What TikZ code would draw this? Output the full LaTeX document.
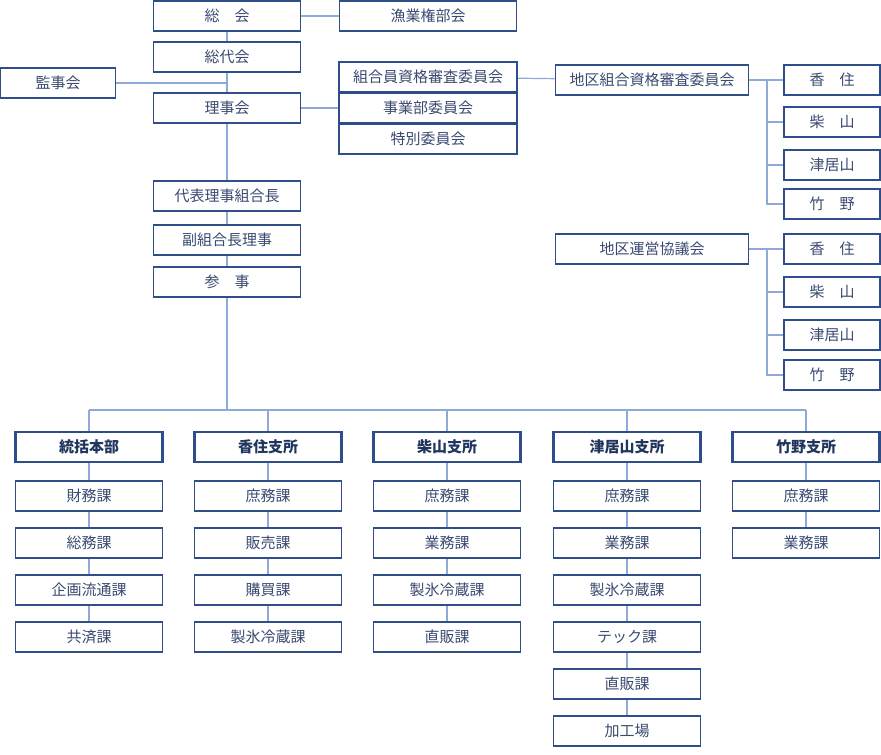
\documentclass[tikz,border=0pt]{standalone}
\usepackage{fontspec}
\setmainfont{Noto Sans CJK JP}
\usetikzlibrary{positioning}
\definecolor{boxblue}{HTML}{2F4D88}
\definecolor{linkblue}{HTML}{8EAADB}
\definecolor{txtblue}{HTML}{3A4A70}
\tikzset{
  unit/.style={draw=boxblue, line width=1.6pt, fill=white, text=txtblue, minimum height=30pt, inner sep=0pt, font=\fontsize{15}{15}\selectfont},
  wide/.style={unit, minimum width=147pt},
  head/.style={wide, line width=2.2pt, font=\fontsize{15}{15}\selectfont\bfseries, text=boxblue!70!black},
  area/.style={unit, minimum width=96pt},
  link/.style={draw=linkblue, line width=1.2pt}
}
\begin{document}
\begin{tikzpicture}[x=1pt, y=-1pt]
\useasboundingbox (0,0) rectangle (881,755);
% top lines
\draw[link] (227,31) -- (227,410);
\draw[link] (89,410) -- (806,410);
\draw[link] (767,80) -- (767,204);
\draw[link] (767,249) -- (767,375);

\node[wide] (soukai) at (227,16) {総　会};
\node[unit, minimum width=177pt] (gyogyo) at (428,16) {漁業権部会};
\node[wide] (soudai) at (227,57) {総代会};
\node[unit, minimum width=115pt] (kanji) at (58,83) {監事会};
\node[wide] (riji) at (227,108) {理事会};
\node[unit, minimum width=178pt] (shikaku) at (428,77) {組合員資格審査委員会};
\node[unit, minimum width=178pt] (jigyo) at (428,108) {事業部委員会};
\node[unit, minimum width=178pt] (tokubetsu) at (428,139) {特別委員会};
\node[unit, minimum width=193pt] (chiku1) at (652,80) {地区組合資格審査委員会};
\node[unit, minimum width=193pt] (chiku2) at (652,249) {地区運営協議会};
\node[wide] (rijicho) at (227,196) {代表理事組合長};
\node[wide] (fuku) at (227,240) {副組合長理事};
\node[wide] (sanji) at (227,282) {参　事};

\coordinate (kj) at (227,83);
\draw[link] (soukai) -- (gyogyo);
\draw[link] (kanji) -- (kj);
\draw[link] (riji) -- (jigyo);
\draw[link] (shikaku) -- (chiku1);

% district boxes
\foreach \name/\y/\t in {a1/80/香　住, a2/122/柴　山, a3/165/津居山, a4/204/竹　野,
                         b1/249/香　住, b2/292/柴　山, b3/335/津居山, b4/375/竹　野}{
  \node[area] (\name) at (832,\y) {\t};
}
\coordinate (j1) at (767,80);
\coordinate (j2) at (767,249);
\draw[link] (chiku1) -- (a1);
\foreach \n in {a2,a3,a4} \draw[link] (j1) |- (\n);
\draw[link] (chiku2) -- (b1);
\foreach \n in {b2,b3,b4} \draw[link] (j2) |- (\n);

% branches
\foreach \name/\x/\t in {h1/89/統括本部, h2/268/香住支所, h3/447/柴山支所, h4/627/津居山支所, h5/806/竹野支所}{
  \coordinate (\name t) at (\x,410);
  \draw[link] (\name t) -- (\x,447);
  \node[head] (\name) at (\x,447) {\t};
}
\newcommand{\sect}[3]{%
  \def\prev{#1}%
  \foreach \t [count=\i, remember=\i as \j (initially 0)] in {#3}{
    \node[wide] (#1s\i) at (#2,449+47*\i) {\t};
    \ifnum\i=1 \draw[link] (#1) -- (#1s\i); \else \draw[link] (#1s\j) -- (#1s\i); \fi
  }}
\sect{h1}{89}{財務課,総務課,企画流通課,共済課}
\sect{h2}{268}{庶務課,販売課,購買課,製氷冷蔵課}
\sect{h3}{447}{庶務課,業務課,製氷冷蔵課,直販課}
\sect{h4}{627}{庶務課,業務課,製氷冷蔵課,テック課,直販課,加工場}
\sect{h5}{806}{庶務課,業務課}
\end{tikzpicture}
\end{document}
